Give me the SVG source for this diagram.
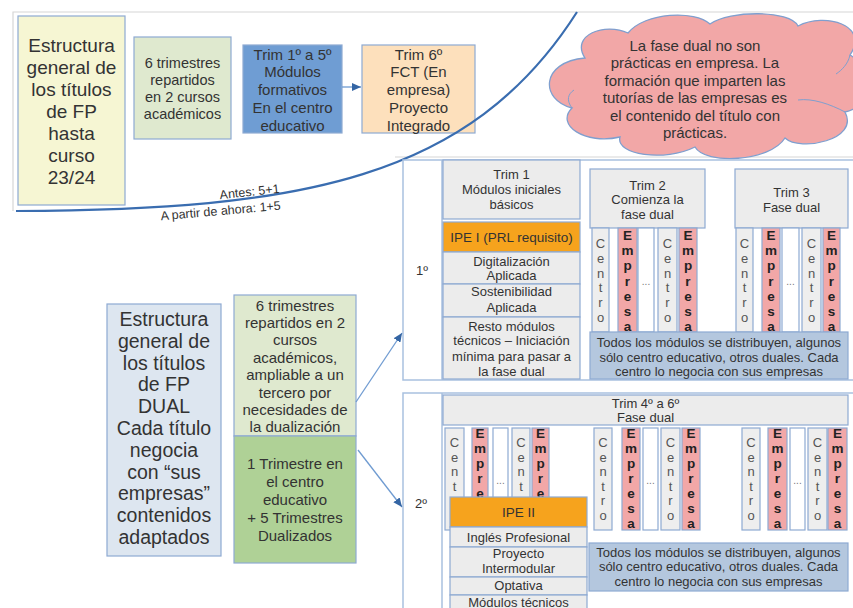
<svg xmlns="http://www.w3.org/2000/svg" width="853" height="608" viewBox="0 0 853 608">
<defs>
<marker id="arr" markerWidth="9" markerHeight="8" refX="9" refY="4" orient="auto" markerUnits="userSpaceOnUse">
<path d="M0,0 L9,4 L0,8 z" fill="#3465a4"/>
</marker>
<style>
text{font-family:"Liberation Sans",Arial,sans-serif;fill:#333;text-anchor:middle}
.f19{font-size:19px}
.f195{font-size:19.5px}
.f15{font-size:15px}
.f145{font-size:14.5px}
.f13{font-size:13px}
.f135{font-size:13.5px}
.f125{font-size:12.5px}
.bx{stroke:#8eaad2;stroke-width:1.2}
.frame{fill:#fff;stroke:#a9c1df;stroke-width:1.5}
.gray{fill:#ececec}
.org{fill:#f6a31d}
.blu{fill:#b4c7de}
.cen{fill:#eeeeee;stroke:#8eaad2;stroke-width:1.2}
.emp{fill:#f2a7a7;stroke:#8eaad2;stroke-width:1.2}
.dot{fill:#fff;stroke:#8eaad2;stroke-width:1.2}
.lc{font-size:13px;fill:#555}
.le{font-size:13.5px;font-weight:bold;fill:#222}
.ld{font-size:10px;fill:#777}
.conn{fill:none;stroke:#6f9bd1;stroke-width:1.3}
</style>
</defs>
<rect x="0" y="0" width="853" height="608" fill="#fff"/>
<g id="borders" fill="none" stroke="#d6d6d6" stroke-width="1.2">
<path d="M13,211 L13,12 L853,12"/>
<path d="M395,157 L853,157"/>
</g>

<g id="title-old">
<rect class="bx" x="18" y="16" width="107" height="189" fill="#f6f6d3"/>
<text class="f19"><tspan x="71.5" y="52">Estructura</tspan><tspan x="71.5" y="74">general de</tspan><tspan x="71.5" y="96">los títulos</tspan><tspan x="71.5" y="118">de FP</tspan><tspan x="71.5" y="140">hasta</tspan><tspan x="71.5" y="162">curso</tspan><tspan x="71.5" y="184">23/24</tspan></text>
</g>
<g id="trimestres-old">
<rect class="bx" x="134" y="37" width="97" height="102" fill="#dfe9cf"/>
<text class="f145"><tspan x="182.5" y="68">6 trimestres</tspan><tspan x="182.5" y="85">repartidos</tspan><tspan x="182.5" y="102">en 2 cursos</tspan><tspan x="182.5" y="119">académicos</tspan></text>
</g>
<g id="trim1-5">
<rect class="bx" x="243" y="45" width="99" height="88" fill="#6f9dd3"/>
<text class="f15"><tspan x="292.5" y="59.5">Trim 1º a 5º</tspan><tspan x="292.5" y="77.2">Módulos</tspan><tspan x="292.5" y="95">formativos</tspan><tspan x="292.5" y="112.7">En el centro</tspan><tspan x="292.5" y="130.5">educativo</tspan></text>
</g>
<g id="trim6">
<rect class="bx" x="362" y="45" width="113" height="88" fill="#fde0bc"/>
<text class="f15"><tspan x="418.5" y="59.5">Trim 6º</tspan><tspan x="418.5" y="77.2">FCT (En</tspan><tspan x="418.5" y="95">empresa)</tspan><tspan x="418.5" y="112.7">Proyecto</tspan><tspan x="418.5" y="130.5">Integrado</tspan></text>
</g>

<g id="cloud">
<path d="M585,58 C570,35 605,22 628,33 C645,12 695,10 710,24 C730,10 790,10 798,26 C825,12 870,25 850,55 C875,70 870,108 845,112 C860,140 800,152 785,138 C770,162 705,165 695,147 C665,162 615,155 620,137 C585,145 555,125 572,108 C540,100 540,62 585,58 Z" fill="#f2a7a7" stroke="#7f9fcf" stroke-width="1.3"/>
<path d="M572,108 C566,100 568,94 574,90 M845,112 C830,104 812,98 798,100 M850,55 C848,64 842,70 836,74" fill="none" stroke="#7f9fcf" stroke-width="1"/>
<text class="f15"><tspan x="695" y="50.5">La fase dual no son</tspan><tspan x="695" y="68">prácticas en empresa. La</tspan><tspan x="695" y="85.5">formación que imparten las</tspan><tspan x="695" y="103">tutorías de las empresas es</tspan><tspan x="695" y="120.5">el contenido del título con</tspan><tspan x="695" y="138">prácticas.</tspan></text>
</g>

<g id="divider">
<path d="M16,211 C300,210 470,180 577,12" fill="none" stroke="#3a6db0" stroke-width="2.2"/>
<text class="f125" transform="rotate(-6 250 196)" x="250" y="196">Antes: 5+1</text>
<text class="f125" transform="rotate(-5 221 215)" x="221" y="215">A partir de ahora: 1+5</text>
</g>

<g id="title-dual">
<rect class="bx" x="107" y="304" width="114" height="252" fill="#dde6f0"/>
<text class="f195"><tspan x="164" y="326">Estructura</tspan><tspan x="164" y="347.8">general de</tspan><tspan x="164" y="369.6">los títulos</tspan><tspan x="164" y="391.4">de FP</tspan><tspan x="164" y="413.2">DUAL</tspan><tspan x="164" y="435">Cada título</tspan><tspan x="164" y="456.8">negocia</tspan><tspan x="164" y="478.6">con “sus</tspan><tspan x="164" y="500.4">empresas”</tspan><tspan x="164" y="522.2">contenidos</tspan><tspan x="164" y="544">adaptados</tspan></text>
</g>
<g id="dual-trimestres">
<rect class="bx" x="234" y="295" width="122" height="141" fill="#dfe9cf"/>
<text class="f15"><tspan x="295" y="310.5">6 trimestres</tspan><tspan x="295" y="327.9">repartidos en 2</tspan><tspan x="295" y="345.3">cursos</tspan><tspan x="295" y="362.7">académicos,</tspan><tspan x="295" y="380.1">ampliable a un</tspan><tspan x="295" y="397.5">tercero por</tspan><tspan x="295" y="414.9">necesidades de</tspan><tspan x="295" y="432.3">la dualización</tspan></text>
</g>
<g id="dual-reparto">
<rect class="bx" x="234" y="436" width="122" height="127" fill="#afd196"/>
<text class="f15"><tspan x="295" y="468.5">1 Trimestre en</tspan><tspan x="295" y="486.5">el centro</tspan><tspan x="295" y="504.5">educativo</tspan><tspan x="295" y="522.5">+ 5 Trimestres</tspan><tspan x="295" y="540.5">Dualizados</tspan></text>
</g>

<g id="curso1">
<rect class="frame" x="403" y="160" width="470" height="220"/>
<line x1="442" y1="160" x2="442" y2="380" stroke="#a9c1df" stroke-width="1.5"/>
<text class="f13" x="422" y="275">1º</text>
<rect class="bx gray" x="443" y="160" width="137" height="59"/>
<text class="f13"><tspan x="511.5" y="178.5">Trim 1</tspan><tspan x="511.5" y="193.5">Módulos iniciales</tspan><tspan x="511.5" y="208.5">básicos</tspan></text>
<rect class="bx org" x="443" y="222" width="137" height="30"/>
<text class="f135" x="511.5" y="242">IPE I (PRL requisito)</text>
<rect class="bx gray" x="443" y="252" width="137" height="32"/>
<text class="f13"><tspan x="511.5" y="265.5">Digitalización</tspan><tspan x="511.5" y="280">Aplicada</tspan></text>
<rect class="bx gray" x="443" y="284" width="137" height="33"/>
<text class="f13"><tspan x="511.5" y="295.5">Sostenibilidad</tspan><tspan x="511.5" y="311.5">Aplicada</tspan></text>
<rect class="bx gray" x="443" y="317" width="137" height="62"/>
<text class="f13"><tspan x="511.5" y="330.5">Resto módulos</tspan><tspan x="511.5" y="345">técnicos – Iniciación</tspan><tspan x="511.5" y="360.5">mínima para pasar a</tspan><tspan x="511.5" y="375.5">la fase dual</tspan></text>
<rect class="bx gray" x="590" y="169" width="115" height="59"/>
<text class="f13"><tspan x="647.5" y="189.5">Trim 2</tspan><tspan x="647.5" y="203.5">Comienza la</tspan><tspan x="647.5" y="218.5">fase dual</tspan></text>
<rect class="bx gray" x="735" y="169" width="113" height="59"/>
<text class="f13"><tspan x="791.5" y="196.5">Trim 3</tspan><tspan x="791.5" y="211.5">Fase dual</tspan></text>
<g id="strips1">
<rect class="cen" x="592" y="228" width="17" height="104"/>
<rect class="emp" x="618" y="228" width="19" height="104"/>
<rect class="dot" x="638" y="228" width="16" height="104"/>
<rect class="cen" x="658" y="228" width="19" height="104"/>
<rect class="emp" x="679" y="228" width="18" height="104"/>
<rect class="cen" x="736" y="228" width="17" height="104"/>
<rect class="emp" x="762" y="228" width="18" height="104"/>
<rect class="dot" x="782" y="228" width="17" height="104"/>
<rect class="cen" x="802" y="228" width="19" height="104"/>
<rect class="emp" x="823" y="228" width="17" height="104"/>
<text class="lc"><tspan x="600.5" y="248">C</tspan><tspan x="600.5" y="262.8">e</tspan><tspan x="600.5" y="277.6">n</tspan><tspan x="600.5" y="292.4">t</tspan><tspan x="600.5" y="307.2">r</tspan><tspan x="600.5" y="322">o</tspan></text>
<text class="lc"><tspan x="667.5" y="248">C</tspan><tspan x="667.5" y="262.8">e</tspan><tspan x="667.5" y="277.6">n</tspan><tspan x="667.5" y="292.4">t</tspan><tspan x="667.5" y="307.2">r</tspan><tspan x="667.5" y="322">o</tspan></text>
<text class="lc"><tspan x="744.5" y="248">C</tspan><tspan x="744.5" y="262.8">e</tspan><tspan x="744.5" y="277.6">n</tspan><tspan x="744.5" y="292.4">t</tspan><tspan x="744.5" y="307.2">r</tspan><tspan x="744.5" y="322">o</tspan></text>
<text class="lc"><tspan x="811.5" y="248">C</tspan><tspan x="811.5" y="262.8">e</tspan><tspan x="811.5" y="277.6">n</tspan><tspan x="811.5" y="292.4">t</tspan><tspan x="811.5" y="307.2">r</tspan><tspan x="811.5" y="322">o</tspan></text>
<text class="le"><tspan x="627.5" y="240">E</tspan><tspan x="627.5" y="255.2">m</tspan><tspan x="627.5" y="270.4">p</tspan><tspan x="627.5" y="285.6">r</tspan><tspan x="627.5" y="300.8">e</tspan><tspan x="627.5" y="316">s</tspan><tspan x="627.5" y="331.2">a</tspan></text>
<text class="le"><tspan x="688" y="240">E</tspan><tspan x="688" y="255.2">m</tspan><tspan x="688" y="270.4">p</tspan><tspan x="688" y="285.6">r</tspan><tspan x="688" y="300.8">e</tspan><tspan x="688" y="316">s</tspan><tspan x="688" y="331.2">a</tspan></text>
<text class="le"><tspan x="771" y="240">E</tspan><tspan x="771" y="255.2">m</tspan><tspan x="771" y="270.4">p</tspan><tspan x="771" y="285.6">r</tspan><tspan x="771" y="300.8">e</tspan><tspan x="771" y="316">s</tspan><tspan x="771" y="331.2">a</tspan></text>
<text class="le"><tspan x="831.5" y="240">E</tspan><tspan x="831.5" y="255.2">m</tspan><tspan x="831.5" y="270.4">p</tspan><tspan x="831.5" y="285.6">r</tspan><tspan x="831.5" y="300.8">e</tspan><tspan x="831.5" y="316">s</tspan><tspan x="831.5" y="331.2">a</tspan></text>
<text class="ld" x="646" y="285">...</text>
<text class="ld" x="790.5" y="285">...</text>
</g>
<rect class="bx blu" x="590" y="332" width="258" height="47"/>
<text class="f13"><tspan x="719" y="346.5">Todos los módulos se distribuyen, algunos</tspan><tspan x="719" y="361.5">sólo centro educativo, otros duales. Cada</tspan><tspan x="719" y="375.5">centro lo negocia con sus empresas</tspan></text>
</g>

<g id="curso2">
<rect class="frame" x="403" y="393" width="470" height="240"/>
<line x1="442" y1="393" x2="442" y2="608" stroke="#a9c1df" stroke-width="1.5"/>
<text class="f13" x="421" y="508">2º</text>
<rect class="bx gray" x="443" y="395" width="405" height="30"/>
<text class="f13"><tspan x="645.5" y="407.5">Trim 4º a 6º</tspan><tspan x="645.5" y="421.5">Fase dual</tspan></text>
<g id="strips2">
<rect class="cen" x="445" y="428" width="19" height="102"/>
<rect class="emp" x="472" y="428" width="16" height="102"/>
<rect class="dot" x="493" y="428" width="15" height="102"/>
<rect class="cen" x="512" y="428" width="18" height="102"/>
<rect class="emp" x="532" y="428" width="17" height="102"/>
<rect class="cen" x="594" y="428" width="18" height="102"/>
<rect class="emp" x="622" y="428" width="18" height="102"/>
<rect class="dot" x="643" y="428" width="15" height="102"/>
<rect class="cen" x="661" y="428" width="19" height="102"/>
<rect class="emp" x="682" y="428" width="18" height="102"/>
<rect class="cen" x="742" y="428" width="18" height="102"/>
<rect class="emp" x="768" y="428" width="19" height="102"/>
<rect class="dot" x="790" y="428" width="15" height="102"/>
<rect class="cen" x="808" y="428" width="19" height="102"/>
<rect class="emp" x="828" y="428" width="19" height="102"/>
<text class="lc"><tspan x="454.5" y="447">C</tspan><tspan x="454.5" y="461.6">e</tspan><tspan x="454.5" y="476.2">n</tspan><tspan x="454.5" y="490.8">t</tspan></text>
<text class="lc"><tspan x="521" y="447">C</tspan><tspan x="521" y="461.6">e</tspan><tspan x="521" y="476.2">n</tspan><tspan x="521" y="490.8">t</tspan></text>
<text class="lc"><tspan x="603" y="447">C</tspan><tspan x="603" y="461.6">e</tspan><tspan x="603" y="476.2">n</tspan><tspan x="603" y="490.8">t</tspan><tspan x="603" y="505.4">r</tspan><tspan x="603" y="520">o</tspan></text>
<text class="lc"><tspan x="670.5" y="447">C</tspan><tspan x="670.5" y="461.6">e</tspan><tspan x="670.5" y="476.2">n</tspan><tspan x="670.5" y="490.8">t</tspan><tspan x="670.5" y="505.4">r</tspan><tspan x="670.5" y="520">o</tspan></text>
<text class="lc"><tspan x="751" y="447">C</tspan><tspan x="751" y="461.6">e</tspan><tspan x="751" y="476.2">n</tspan><tspan x="751" y="490.8">t</tspan><tspan x="751" y="505.4">r</tspan><tspan x="751" y="520">o</tspan></text>
<text class="lc"><tspan x="817.5" y="447">C</tspan><tspan x="817.5" y="461.6">e</tspan><tspan x="817.5" y="476.2">n</tspan><tspan x="817.5" y="490.8">t</tspan><tspan x="817.5" y="505.4">r</tspan><tspan x="817.5" y="520">o</tspan></text>
<text class="le"><tspan x="480" y="438">E</tspan><tspan x="480" y="453">m</tspan><tspan x="480" y="468">p</tspan><tspan x="480" y="483">r</tspan><tspan x="480" y="498">e</tspan></text>
<text class="le"><tspan x="540.5" y="438">E</tspan><tspan x="540.5" y="453">m</tspan><tspan x="540.5" y="468">p</tspan><tspan x="540.5" y="483">r</tspan><tspan x="540.5" y="498">e</tspan></text>
<text class="le"><tspan x="631" y="438">E</tspan><tspan x="631" y="453">m</tspan><tspan x="631" y="468">p</tspan><tspan x="631" y="483">r</tspan><tspan x="631" y="498">e</tspan><tspan x="631" y="513">s</tspan><tspan x="631" y="528">a</tspan></text>
<text class="le"><tspan x="691" y="438">E</tspan><tspan x="691" y="453">m</tspan><tspan x="691" y="468">p</tspan><tspan x="691" y="483">r</tspan><tspan x="691" y="498">e</tspan><tspan x="691" y="513">s</tspan><tspan x="691" y="528">a</tspan></text>
<text class="le"><tspan x="777.5" y="438">E</tspan><tspan x="777.5" y="453">m</tspan><tspan x="777.5" y="468">p</tspan><tspan x="777.5" y="483">r</tspan><tspan x="777.5" y="498">e</tspan><tspan x="777.5" y="513">s</tspan><tspan x="777.5" y="528">a</tspan></text>
<text class="le"><tspan x="837.5" y="438">E</tspan><tspan x="837.5" y="453">m</tspan><tspan x="837.5" y="468">p</tspan><tspan x="837.5" y="483">r</tspan><tspan x="837.5" y="498">e</tspan><tspan x="837.5" y="513">s</tspan><tspan x="837.5" y="528">a</tspan></text>
<text class="ld" x="500.5" y="484">...</text>
<text class="ld" x="650.5" y="484">...</text>
<text class="ld" x="797.5" y="484">...</text>
</g>
<rect class="bx org" x="450" y="497" width="137" height="30"/>
<text class="f135" x="518.5" y="517">IPE II</text>
<rect class="bx gray" x="450" y="527" width="137" height="20"/>
<text class="f13" x="518.5" y="541.5">Inglés Profesional</text>
<rect class="bx gray" x="450" y="547" width="137" height="30"/>
<text class="f13"><tspan x="518.5" y="557.5">Proyecto</tspan><tspan x="518.5" y="572.5">Intermodular</tspan></text>
<rect class="bx gray" x="450" y="577" width="137" height="18"/>
<text class="f13" x="518.5" y="589.5">Optativa</text>
<rect class="bx gray" x="450" y="595" width="137" height="30"/>
<text class="f13" x="518.5" y="606.5">Módulos técnicos</text>
<rect class="bx blu" x="589" y="543" width="259" height="48"/>
<text class="f13"><tspan x="718.5" y="556.5">Todos los módulos se distribuyen, algunos</tspan><tspan x="718.5" y="570.5">sólo centro educativo, otros duales. Cada</tspan><tspan x="718.5" y="585.5">centro lo negocia con sus empresas</tspan></text>
</g>

<g id="connectors">
<line class="conn" x1="342" y1="87" x2="361" y2="87" marker-end="url(#arr)"/>
<line class="conn" x1="356" y1="402" x2="402" y2="333" marker-end="url(#arr)"/>
<line class="conn" x1="358" y1="450" x2="402" y2="507" marker-end="url(#arr)"/>
</g>
</svg>
